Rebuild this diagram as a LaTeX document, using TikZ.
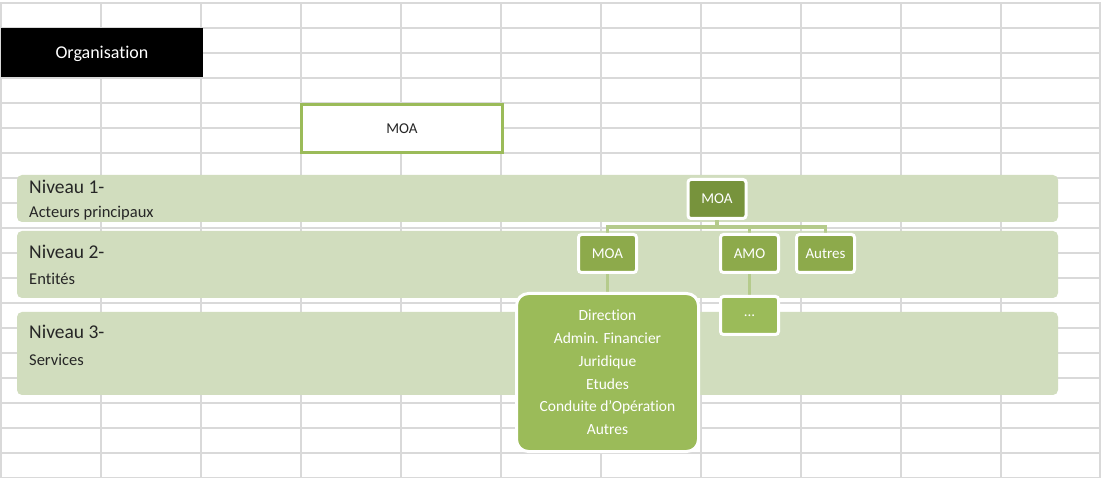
\documentclass[tikz,border=0pt]{standalone}
\usepackage{fontspec}
\setmainfont{Carlito}[Ligatures={NoCommon,NoRare}]
\usetikzlibrary{positioning,calc}
\pgfdeclarelayer{bg}
\pgfdeclarelayer{mid}
\pgfsetlayers{bg,mid,main}
\definecolor{gridc}{HTML}{D9D9D9}
\definecolor{bandc}{HTML}{D1DDBE}
\definecolor{darkg}{HTML}{77933C}
\definecolor{midg}{HTML}{8DAA4B}
\definecolor{lightg}{HTML}{9BBB59}
\definecolor{connc}{HTML}{B5CB8C}
\definecolor{txt}{HTML}{262626}
\tikzset{
  band/.style={fill=bandc, draw=none, rounded corners=5pt, inner sep=0pt},
  gbox/.style={draw=white, line width=3pt, rounded corners=3pt, inner sep=0pt,
     minimum width=58pt, minimum height=38pt, text=white, font=\fontsize{15}{15}\selectfont},
  conn/.style={draw=connc, line width=3.5pt},
  lvltitle/.style={anchor=west, text=txt, inner sep=0pt, font=\fontsize{19.5}{19.5}\selectfont},
  lvlsub/.style={anchor=west, text=txt, inner sep=0pt, font=\fontsize{16.5}{16.5}\selectfont},
}
\begin{document}
\begin{tikzpicture}[x=1pt,y=-1pt]
\useasboundingbox (0,0) rectangle (1101,478);
\begin{pgfonlayer}{bg}
  \fill[white] (0,0) rectangle (1101,478);
  \foreach \x in {1,101,...,1001} \draw[gridc, line width=1.3pt] (\x,3) -- (\x,478);
  \draw[gridc, line width=1.3pt] (1100,3) -- (1100,478);
  \foreach \y in {3,28,...,478} \draw[gridc, line width=1.3pt] (0,\y) -- (1101,\y);
  \node[band, minimum width=1041pt, minimum height=47pt] (b1) at (537.5,198.5) {};
  \node[band, minimum width=1041pt, minimum height=67pt] (b2) at (537.5,264.5) {};
  \node[band, minimum width=1041pt, minimum height=83pt] (b3) at (537.5,353.5) {};
\end{pgfonlayer}

\node[fill=black, inner sep=0pt, minimum width=202pt, minimum height=49pt, text=white,
  text depth=0pt, font=\fontsize{18}{18}\selectfont] (org) at (102,52.5) {Organisation};
\node[draw=lightg, line width=3pt, fill=white, inner sep=0pt, minimum width=201pt,
  minimum height=48pt, text=txt, font=\fontsize{15}{15}\selectfont] (moaw) at (402,128.5) {MOA};

\node[lvltitle] (n1) at (29,187) {Niveau 1-};
\node[lvlsub] (s1) at (29,213.5) {Acteurs principaux};
\node[lvltitle] (n2) at (29,252) {Niveau 2-};
\node[lvlsub] (s2) at (29,279) {Entités};
\node[lvltitle] (n3) at (29,332) {Niveau 3-};
\node[lvlsub] (s3) at (29,360) {Services};

\node[gbox, fill=darkg, minimum height=39pt] (m1) at (717,199) {MOA};
\node[gbox, fill=midg] (m2) at (607.5,253.5) {MOA};
\node[gbox, fill=midg] (amo) at (749.5,253.5) {AMO};
\node[gbox, fill=midg] (aut) at (825.5,253.5) {Autres};
\node[gbox, fill=lightg] (dots) at (749.5,315.5) {...};
\node[gbox, fill=lightg, rounded corners=12pt, minimum width=182pt, minimum height=158pt,
  align=center, font=\fontsize{15.5}{22.8}\selectfont] (serv) at (607.5,372.5)
  {Direction\\Admin. Financier\\Juridique\\Etudes\\Conduite d'Opération\\Autres};

\begin{pgfonlayer}{mid}
  \coordinate (j) at ($(m1.south)+(0,7)$);
  \draw[conn] (m1.south) -- (j);
  \draw[conn] (j) -| (m2.north);
  \draw[conn] (j) -| (amo.north);
  \draw[conn] (j) -| (aut.north);
  \draw[conn] (m2.south) -- (serv.north -| m2.south);
  \draw[conn] (amo.south) -- (dots.north);
\end{pgfonlayer}
\end{tikzpicture}
\end{document}
